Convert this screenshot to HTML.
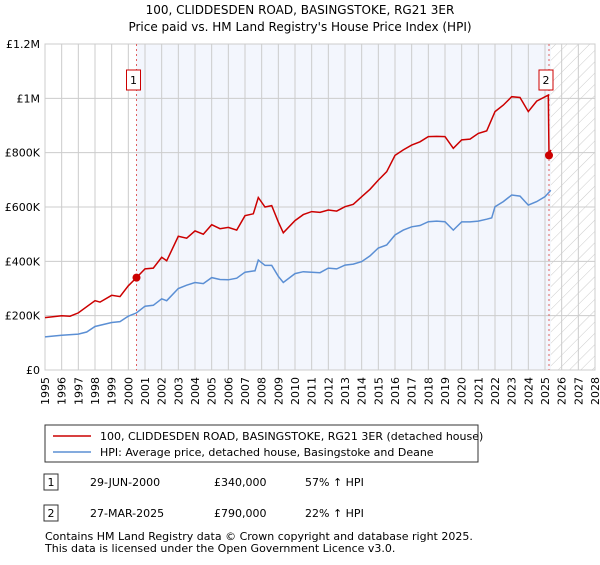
<!DOCTYPE html>
<html><head><meta charset="utf-8"><style>
body{margin:0;background:#fff;font-family:"Liberation Sans","DejaVu Sans",sans-serif;}
svg text{font-family:"DejaVu Sans","Liberation Sans",sans-serif;}
</style></head><body>
<svg id="c" width="600" height="560" xmlns="http://www.w3.org/2000/svg">
<defs><pattern id="h" width="8" height="8" patternUnits="userSpaceOnUse" patternTransform="rotate(45)"><line x1="0" y1="0" x2="0" y2="8" stroke="#ccc" stroke-width="1"/></pattern></defs>
<text x="300" y="14" font-size="12" text-anchor="middle">100, CLIDDESDEN ROAD, BASINGSTOKE, RG21 3ER</text>
<text x="300" y="31" font-size="12" text-anchor="middle">Price paid vs. HM Land Registry's House Price Index (HPI)</text>
<g id="plot"></g>
<g>
<rect x="45" y="425" width="433" height="37" fill="#fff" stroke="#333"/>
<line x1="53" y1="436" x2="91" y2="436" stroke="#cc0000" stroke-width="1.5"/>
<text x="100" y="440" font-size="11">100, CLIDDESDEN ROAD, BASINGSTOKE, RG21 3ER (detached house)</text>
<line x1="53" y1="452" x2="91" y2="452" stroke="#5b8fd4" stroke-width="1.5"/>
<text x="100" y="456" font-size="11">HPI: Average price, detached house, Basingstoke and Deane</text>
</g>
<g>
<rect x="44" y="474" width="14" height="16" fill="#fff" stroke="#333"/><text x="51" y="486" font-size="11" text-anchor="middle">1</text>
<text x="90" y="486" font-size="11">29-JUN-2000</text><text x="214" y="486" font-size="11">£340,000</text><text x="305" y="486" font-size="11">57% ↑ HPI</text>
<rect x="44" y="505" width="14" height="16" fill="#fff" stroke="#333"/><text x="51" y="517" font-size="11" text-anchor="middle">2</text>
<text x="90" y="517" font-size="11">27-MAR-2025</text><text x="214" y="517" font-size="11">£790,000</text><text x="305" y="517" font-size="11">22% ↑ HPI</text>
</g>
<text x="45" y="540" font-size="11">Contains HM Land Registry data © Crown copyright and database right 2025.</text>
<text x="45" y="552" font-size="11">This data is licensed under the Open Government Licence v3.0.</text>
</svg>
<script>
const hpiYears=[1995,1996,1997,1997.5,1998,1999,1999.5,2000,2000.49,2001,2001.5,2002,2002.3,2003,2003.5,2004,2004.5,2005,2005.5,2006,2006.5,2007,2007.6,2007.8,2008.2,2008.6,2009,2009.3,2010,2010.5,2011,2011.5,2012,2012.5,2013,2013.5,2014,2014.5,2015,2015.5,2016,2016.5,2017,2017.5,2018,2018.5,2019,2019.5,2020,2020.5,2021,2021.5,2021.8,2022,2022.5,2023,2023.5,2024,2024.5,2025,2025.35];
const hpiValues=[122,128,132,140,160,175,178,198,210,235,238,262,255,300,312,322,318,340,333,332,338,360,365,405,385,385,345,322,355,362,360,358,375,372,386,390,399,420,449,460,497,515,527,532,546,548,546,515,545,545,548,555,560,601,620,644,640,607,620,638,662];
const priceYears=[1995,1996,1996.5,1997,1998,1998.3,1999,1999.5,2000,2000.49,2001,2001.5,2002,2002.3,2003,2003.5,2004,2004.5,2005,2005.5,2006,2006.5,2007,2007.5,2007.8,2008.2,2008.6,2009,2009.3,2010,2010.5,2011,2011.5,2012,2012.5,2013,2013.5,2014,2014.5,2015,2015.5,2016,2016.5,2017,2017.5,2018,2018.5,2019,2019.5,2020,2020.5,2021,2021.5,2022,2022.5,2023,2023.5,2024,2024.5,2025.2,2025.24,2025.35];
const priceValues=[193,200,198,210,255,250,275,270,310,340,372,375,415,402,492,485,512,500,535,520,525,515,568,575,635,600,605,545,505,550,572,583,580,589,585,601,610,638,665,699,730,790,810,828,840,859,860,859,816,847,850,871,880,951,975,1006,1003,951,990,1012,790,810];
const sales=[[2000.49,340,"1"],[2025.24,790,"2"]];
const yTicks=[0,200,400,600,800,1000,1200];
const yLabels=["£0","£200K","£400K","£600K","£800K","£1M","£1.2M"];
const xTicks=[];for(let y=1995;y<=2028;y++)xTicks.push(y);
const X0=45,X1=595,Y0=370,Y1=44,xmin=1995,xmax=2028,ymax=1200,dataEnd=2025.35;
const sx=v=>X0+(v-xmin)/(xmax-xmin)*(X1-X0);
const sy=v=>Y0-v/ymax*(Y0-Y1);
const g=document.getElementById('plot');const NS="http://www.w3.org/2000/svg";
function mk(t,a){const e=document.createElementNS(NS,t);for(const k in a)e.setAttribute(k,a[k]);g.appendChild(e);return e;}
let e=mk('rect',{x:X0,y:Y1,width:X1-X0,height:Y0-Y1,fill:'#fff'});
e=mk('rect',{x:sx(sales[0][0]),y:Y1,width:sx(dataEnd)-sx(sales[0][0]),height:Y0-Y1,fill:'#f3f6fd'});


e=mk('rect',{x:sx(dataEnd),y:Y1,width:X1-sx(dataEnd),height:Y0-Y1,fill:'url(#h)'});


xTicks.forEach(t=>{const x=sx(t);
 e=mk('line',{x1:x,y1:Y1,x2:x,y2:Y0,stroke:'#ccc','stroke-width':1});
 e=mk('text',{x:0,y:0,'font-size':11,'text-anchor':'end',transform:`translate(${x+4},${Y0+7}) rotate(-90)`});
 e.textContent=t;
 
 
});
yTicks.forEach((t,i)=>{const y=sy(t);
 mk('line',{x1:X0,y1:y,x2:X1,y2:y,stroke:'#ccc','stroke-width':1});
 e=mk('text',{x:X0-5,y:y+4,'font-size':11,'text-anchor':'end'});
 e.textContent=yLabels[i];
 
 
});
mk('rect',{x:X0,y:Y1,width:X1-X0,height:Y0-Y1,fill:'none',stroke:'#ccc'});
sales.forEach(s=>{const x=sx(s[0]);
 e=mk('line',{x1:x,y1:Y1,x2:x,y2:Y0,stroke:'#e06060','stroke-dasharray':'2,3','stroke-width':1});
 
 
 const b=mk('rect',{x:x-10,y:70,width:14,height:20,fill:'#fff',stroke:'#cc0000'});
 
 
 const t=mk('text',{x:x-3,y:84,'font-size':11,'text-anchor':'middle'});t.textContent=s[2];
});
function path(xs,vs){return xs.map((v,i)=>(i?'L':'M')+sx(v).toFixed(1)+','+sy(vs[i]).toFixed(1)).join('');}
e=mk('path',{d:path(hpiYears,hpiValues),fill:'none',stroke:'#5b8fd4','stroke-width':1.5});


e=mk('path',{d:path(priceYears,priceValues),fill:'none',stroke:'#cc0000','stroke-width':1.5});


sales.forEach(s=>{e=mk('circle',{cx:sx(s[0]),cy:sy(s[1]),r:4,fill:'#cc0000'});
 
 
});
</script>
</body></html>
